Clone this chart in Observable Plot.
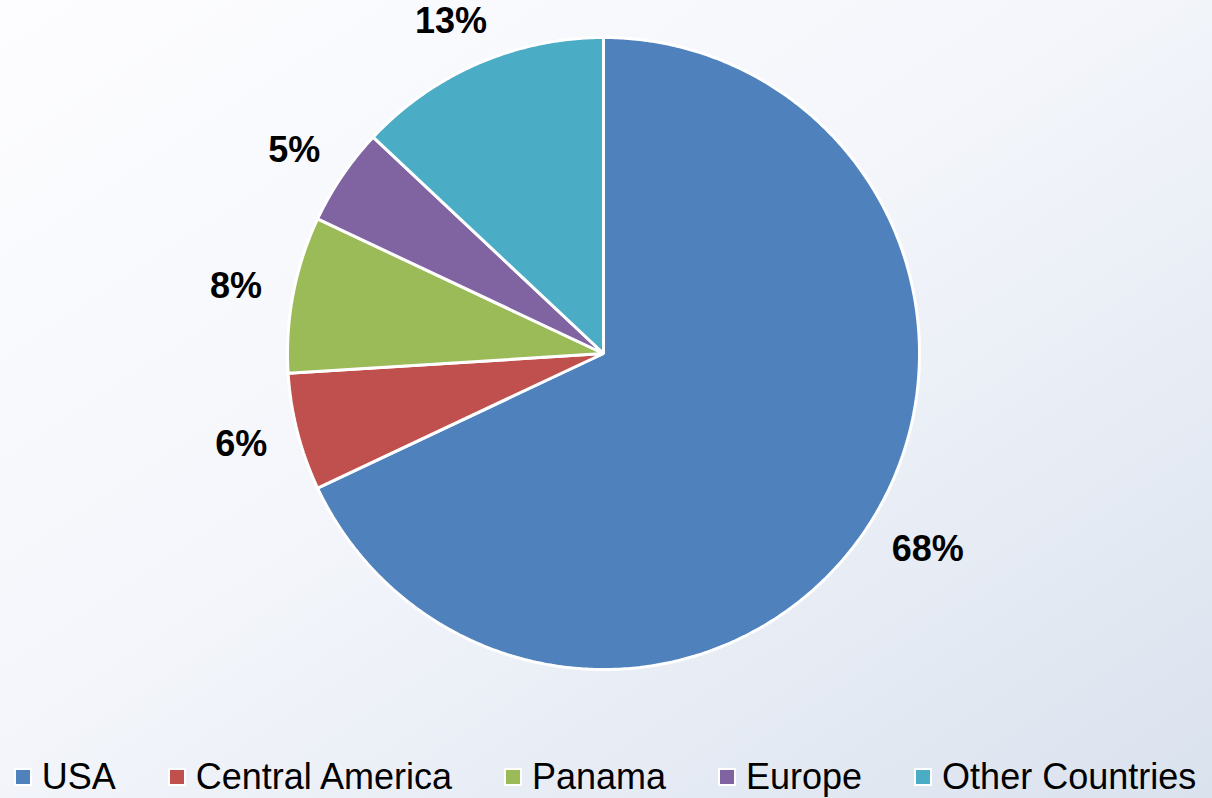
<!DOCTYPE html>
<html>
<head>
<meta charset="utf-8">
<script src="https://cdn.jsdelivr.net/npm/d3@7"></script>
<script src="https://cdn.jsdelivr.net/npm/@observablehq/plot@0.6"></script>
<style>
  html, body { margin: 0; padding: 0; }
  body {
    width: 1212px; height: 798px; overflow: hidden; position: relative;
    background: linear-gradient(to bottom right, #fdfdff 0%, #f4f6fb 45%, #dae2ee 100%);
    font-family: "Liberation Sans", Arial, sans-serif;
  }
  #chart { position: absolute; left: 0; top: 0; }
  #legend {
    position: absolute; left: 0; top: 759px; width: 1212px;
    display: flex; justify-content: center; align-items: center; gap: 54px;
    font-size: 36px; line-height: 36px; color: #000;
  }
  .item { display: flex; align-items: center; white-space: nowrap; }
  .sw { width: 14px; height: 14px; box-shadow: 0 0 0 2px #fff; margin-right: 12px; }
</style>
</head>
<body>
<div id="chart"></div>
<div id="legend"></div>
<script>
const categories = ["USA", "Central America", "Panama", "Europe", "Other Countries"];
const shares = [68, 6, 8, 5, 13];
const labels = ["68%", "6%", "8%", "5%", "13%"];
const colors = ["#4F81BD", "#C0504D", "#9BBB59", "#8064A2", "#4BACC6"];

const W = 1212, H = 706, RPX = 316;
const X = H / (2 * RPX);

// slices clockwise from 12 o'clock
const pie = d3.pie().sort(null).value(d => d)(shares);
const slices = pie.map((p, i) => {
  const a0 = p.startAngle, a1 = p.endAngle;
  const n = Math.max(2, Math.ceil((a1 - a0) / (Math.PI / 360)));
  const ring = [[0, 0]];
  for (let k = 0; k <= n; k++) {
    const a = a0 + (a1 - a0) * k / n;
    ring.push([Math.sin(a), Math.cos(a)]);
  }
  ring.push([0, 0]);
  return {type: "Feature", properties: {name: categories[i]}, geometry: {type: "Polygon", coordinates: [ring]}};
});

// label positions (outside end)
const ctx = document.createElement("canvas").getContext("2d");
ctx.font = "bold 36px 'Liberation Sans', Arial";
const r0 = 348 / RPX;
const labelData = pie.map((p, i) => {
  const a = (p.startAngle + p.endAngle) / 2;
  const w = ctx.measureText(labels[i]).width / RPX;
  const h = 30 / RPX;
  return {
    label: labels[i],
    x: r0 * Math.sin(a) + Math.sin(a) * w / 2,
    y: r0 * Math.cos(a) + Math.cos(a) * h / 2
  };
});

const chart = Plot.plot({
  width: W, height: H,
  marginTop: 0, marginBottom: 0, marginLeft: 0, marginRight: 6,
  style: {background: "transparent", overflow: "visible"},
  projection: {type: "reflect-y", domain: {type: "MultiPoint", coordinates: [[-X, -X], [X, X]]}},
  color: {domain: categories, range: colors},
  marks: [
    Plot.geo(slices, {fill: d => d.properties.name, stroke: "#fff", strokeWidth: 3, strokeLinejoin: "miter"}),
    Plot.text(labelData, {x: "x", y: "y", text: "label", fontSize: 36, fontWeight: "bold",
      fill: "#000", fontFamily: "'Liberation Sans', Arial, sans-serif", dy: 1})
  ]
});
document.getElementById("chart").appendChild(chart);

const legend = document.getElementById("legend");
categories.forEach((c, i) => {
  const it = document.createElement("div");
  it.className = "item";
  const sw = document.createElement("span");
  sw.className = "sw";
  sw.style.background = colors[i];
  it.appendChild(sw);
  it.appendChild(document.createTextNode(c));
  legend.appendChild(it);
});
</script>
</body>
</html>
